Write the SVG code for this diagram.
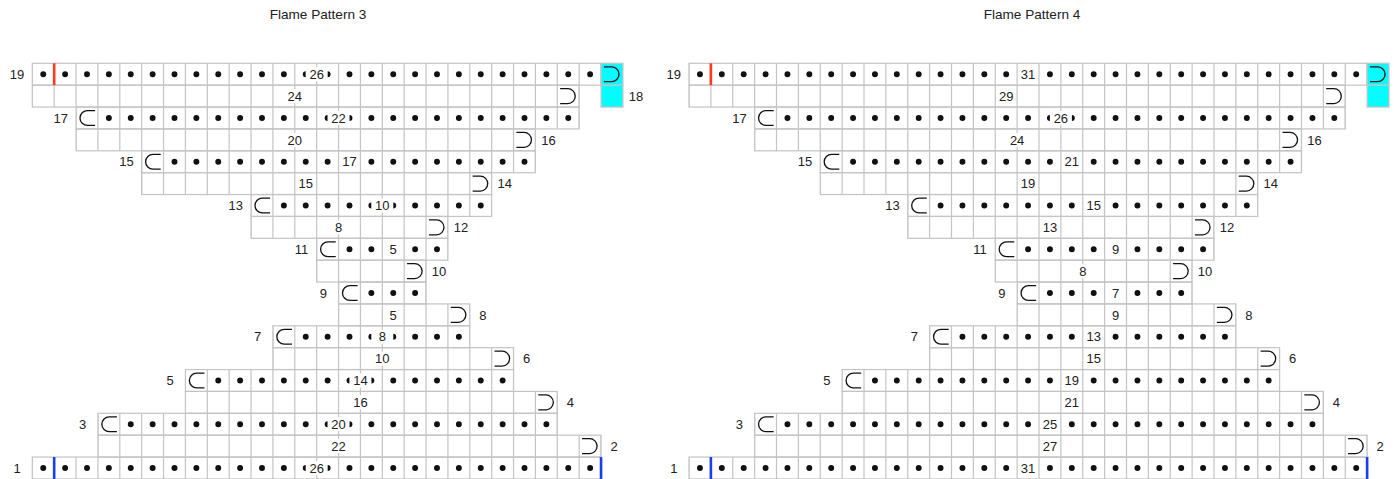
<svg xmlns="http://www.w3.org/2000/svg" xmlns:xlink="http://www.w3.org/1999/xlink" width="1394" height="479" viewBox="0 0 1394 479">
<style>
.c{fill:none;stroke:#c4c4c4;stroke-width:.055}
.v{stroke:#c4c4c4;stroke-width:1;stroke-dasharray:.055 .945;stroke-dashoffset:.0275;fill:none}
.d{stroke:#111;stroke-width:.27;stroke-linecap:round;stroke-dasharray:.001 .999;fill:none}
.k{fill:#00ffff;stroke:#c4c4c4;stroke-width:.055}
.s{fill:none;stroke:#111;stroke-width:.06}
.red{stroke:#ff3a1a;stroke-width:.12}
.blue{stroke:#1a3fe8;stroke-width:.12}
text{font-family:"Liberation Sans",Arial,sans-serif;font-size:13px;fill:#222}
.n{text-anchor:middle}
.t{text-anchor:middle;font-size:13.6px}
.bg{fill:#fff}
</style>
<defs>
<path id="L" class="s" d="M.87 .16H.52A.34 .34 0 0 0 .52 .84H.87"/>
<path id="R" class="s" d="M.13 .16H.48A.34 .34 0 0 1 .48 .84H.13"/>
</defs>
<rect width="1394" height="479" fill="#fff"/>

<g id="flame-pattern-3">
<text class="t" x="318" y="19">Flame Pattern 3</text>
<g id="p3-grid" transform="translate(32.3,63.3) scale(21.875)">
<rect class="c" x="0" y="0" width="26" height="1"/><line class="v" x1="0" y1=".5" x2="26" y2=".5"/>
<rect class="c" x="0" y="1" width="25" height="1"/><line class="v" x1="0" y1="1.5" x2="25" y2="1.5"/>
<rect class="c" x="2" y="2" width="23" height="1"/><line class="v" x1="2" y1="2.5" x2="25" y2="2.5"/>
<rect class="c" x="2" y="3" width="21" height="1"/><line class="v" x1="2" y1="3.5" x2="23" y2="3.5"/>
<rect class="c" x="5" y="4" width="18" height="1"/><line class="v" x1="5" y1="4.5" x2="23" y2="4.5"/>
<rect class="c" x="5" y="5" width="16" height="1"/><line class="v" x1="5" y1="5.5" x2="21" y2="5.5"/>
<rect class="c" x="10" y="6" width="11" height="1"/><line class="v" x1="10" y1="6.5" x2="21" y2="6.5"/>
<rect class="c" x="10" y="7" width="9" height="1"/><line class="v" x1="10" y1="7.5" x2="19" y2="7.5"/>
<rect class="c" x="13" y="8" width="6" height="1"/><line class="v" x1="13" y1="8.5" x2="19" y2="8.5"/>
<rect class="c" x="13" y="9" width="5" height="1"/><line class="v" x1="13" y1="9.5" x2="18" y2="9.5"/>
<rect class="c" x="14" y="10" width="4" height="1"/><line class="v" x1="14" y1="10.5" x2="18" y2="10.5"/>
<rect class="c" x="14" y="11" width="6" height="1"/><line class="v" x1="14" y1="11.5" x2="20" y2="11.5"/>
<rect class="c" x="11" y="12" width="9" height="1"/><line class="v" x1="11" y1="12.5" x2="20" y2="12.5"/>
<rect class="c" x="11" y="13" width="11" height="1"/><line class="v" x1="11" y1="13.5" x2="22" y2="13.5"/>
<rect class="c" x="7" y="14" width="15" height="1"/><line class="v" x1="7" y1="14.5" x2="22" y2="14.5"/>
<rect class="c" x="7" y="15" width="17" height="1"/><line class="v" x1="7" y1="15.5" x2="24" y2="15.5"/>
<rect class="c" x="3" y="16" width="21" height="1"/><line class="v" x1="3" y1="16.5" x2="24" y2="16.5"/>
<rect class="c" x="3" y="17" width="23" height="1"/><line class="v" x1="3" y1="17.5" x2="26" y2="17.5"/>
<rect class="c" x="0" y="18" width="26" height="1"/><line class="v" x1="0" y1="18.5" x2="26" y2="18.5"/>
<rect class="k" x="26" y="0" width="1" height="1"/>
<rect class="k" x="26" y="1" width="1" height="1"/>
<line class="d" x1=".5" y1=".5" x2="25.51" y2=".5"/>
<line class="d" x1="3.5" y1="2.5" x2="24.51" y2="2.5"/>
<line class="d" x1="6.5" y1="4.5" x2="22.51" y2="4.5"/>
<line class="d" x1="11.5" y1="6.5" x2="20.51" y2="6.5"/>
<line class="d" x1="14.5" y1="8.5" x2="18.51" y2="8.5"/>
<line class="d" x1="15.5" y1="10.5" x2="17.51" y2="10.5"/>
<line class="d" x1="12.5" y1="12.5" x2="19.51" y2="12.5"/>
<line class="d" x1="8.5" y1="14.5" x2="21.51" y2="14.5"/>
<line class="d" x1="4.5" y1="16.5" x2="23.51" y2="16.5"/>
<line class="d" x1=".5" y1="18.5" x2="25.51" y2="18.5"/>
<use xlink:href="#R" href="#R" x="26" y="0"/>
<use xlink:href="#R" href="#R" x="24" y="1"/>
<use xlink:href="#L" href="#L" x="2" y="2"/>
<use xlink:href="#R" href="#R" x="22" y="3"/>
<use xlink:href="#L" href="#L" x="5" y="4"/>
<use xlink:href="#R" href="#R" x="20" y="5"/>
<use xlink:href="#L" href="#L" x="10" y="6"/>
<use xlink:href="#R" href="#R" x="18" y="7"/>
<use xlink:href="#L" href="#L" x="13" y="8"/>
<use xlink:href="#R" href="#R" x="17" y="9"/>
<use xlink:href="#L" href="#L" x="14" y="10"/>
<use xlink:href="#R" href="#R" x="19" y="11"/>
<use xlink:href="#L" href="#L" x="11" y="12"/>
<use xlink:href="#R" href="#R" x="21" y="13"/>
<use xlink:href="#L" href="#L" x="7" y="14"/>
<use xlink:href="#R" href="#R" x="23" y="15"/>
<use xlink:href="#L" href="#L" x="3" y="16"/>
<use xlink:href="#R" href="#R" x="25" y="17"/>
<line class="red" x1="1" y1="0" x2="1" y2="1"/>
<line class="blue" x1="1" y1="18" x2="1" y2="19"/>
<line class="blue" x1="26" y1="18" x2="26" y2="19"/>
</g>
<g id="p3-counts">
<rect class="bg" x="305.68" y="67.24" width="22" height="14"/><text class="n" x="316.68" y="78.8">26</text>
<rect class="bg" x="283.8" y="89.11" width="22" height="14"/><text class="n" x="294.8" y="100.7">24</text>
<rect class="bg" x="327.55" y="110.99" width="22" height="14"/><text class="n" x="338.55" y="122.6">22</text>
<rect class="bg" x="283.8" y="132.86" width="22" height="14"/><text class="n" x="294.8" y="144.5">20</text>
<rect class="bg" x="340.99" y="154.74" width="17" height="14"/><text class="n" x="349.49" y="166.3">17</text>
<rect class="bg" x="297.24" y="176.61" width="17" height="14"/><text class="n" x="305.74" y="188.2">15</text>
<rect class="bg" x="371.3" y="198.49" width="22" height="14"/><text class="n" x="382.3" y="210.1">10</text>
<rect class="bg" x="327.55" y="220.36" width="22" height="14"/><text class="n" x="338.55" y="232">8</text>
<rect class="bg" x="384.74" y="242.24" width="17" height="14"/><text class="n" x="393.24" y="253.8">5</text>
<rect class="bg" x="384.74" y="307.86" width="17" height="14"/><text class="n" x="393.24" y="319.5">5</text>
<rect class="bg" x="371.3" y="329.74" width="22" height="14"/><text class="n" x="382.3" y="341.3">8</text>
<rect class="bg" x="371.3" y="351.61" width="22" height="14"/><text class="n" x="382.3" y="363.2">10</text>
<rect class="bg" x="349.43" y="373.49" width="22" height="14"/><text class="n" x="360.43" y="385.1">14</text>
<rect class="bg" x="349.43" y="395.36" width="22" height="14"/><text class="n" x="360.43" y="407">16</text>
<rect class="bg" x="327.55" y="417.24" width="22" height="14"/><text class="n" x="338.55" y="428.8">20</text>
<rect class="bg" x="327.55" y="439.11" width="22" height="14"/><text class="n" x="338.55" y="450.7">22</text>
<rect class="bg" x="305.68" y="460.99" width="22" height="14"/><text class="n" x="316.68" y="472.6">26</text>
</g>
<g id="p3-rownums">
<text class="n" x="17.1" y="78.8">19</text>
<text class="n" x="635.9" y="100.7">18</text>
<text class="n" x="60.85" y="122.6">17</text>
<text class="n" x="548.4" y="144.5">16</text>
<text class="n" x="126.5" y="166.3">15</text>
<text class="n" x="504.7" y="188.2">14</text>
<text class="n" x="235.85" y="210.1">13</text>
<text class="n" x="460.9" y="232">12</text>
<text class="n" x="301.5" y="253.8">11</text>
<text class="n" x="439.05" y="275.7">10</text>
<text class="n" x="323.35" y="297.6">9</text>
<text class="n" x="482.8" y="319.5">8</text>
<text class="n" x="257.7" y="341.3">7</text>
<text class="n" x="526.55" y="363.2">6</text>
<text class="n" x="170.2" y="385.1">5</text>
<text class="n" x="570.3" y="407">4</text>
<text class="n" x="82.7" y="428.8">3</text>
<text class="n" x="614.05" y="450.7">2</text>
<text class="n" x="17.1" y="472.6">1</text>
</g>
</g>

<g id="flame-pattern-4">
<text class="t" x="1032" y="19">Flame Pattern 4</text>
<g id="p4-grid" transform="translate(689,63.3) scale(21.875)">
<rect class="c" x="0" y="0" width="31" height="1"/><line class="v" x1="0" y1=".5" x2="31" y2=".5"/>
<rect class="c" x="0" y="1" width="30" height="1"/><line class="v" x1="0" y1="1.5" x2="30" y2="1.5"/>
<rect class="c" x="3" y="2" width="27" height="1"/><line class="v" x1="3" y1="2.5" x2="30" y2="2.5"/>
<rect class="c" x="3" y="3" width="25" height="1"/><line class="v" x1="3" y1="3.5" x2="28" y2="3.5"/>
<rect class="c" x="6" y="4" width="22" height="1"/><line class="v" x1="6" y1="4.5" x2="28" y2="4.5"/>
<rect class="c" x="6" y="5" width="20" height="1"/><line class="v" x1="6" y1="5.5" x2="26" y2="5.5"/>
<rect class="c" x="10" y="6" width="16" height="1"/><line class="v" x1="10" y1="6.5" x2="26" y2="6.5"/>
<rect class="c" x="10" y="7" width="14" height="1"/><line class="v" x1="10" y1="7.5" x2="24" y2="7.5"/>
<rect class="c" x="14" y="8" width="10" height="1"/><line class="v" x1="14" y1="8.5" x2="24" y2="8.5"/>
<rect class="c" x="14" y="9" width="9" height="1"/><line class="v" x1="14" y1="9.5" x2="23" y2="9.5"/>
<rect class="c" x="15" y="10" width="8" height="1"/><line class="v" x1="15" y1="10.5" x2="23" y2="10.5"/>
<rect class="c" x="15" y="11" width="10" height="1"/><line class="v" x1="15" y1="11.5" x2="25" y2="11.5"/>
<rect class="c" x="11" y="12" width="14" height="1"/><line class="v" x1="11" y1="12.5" x2="25" y2="12.5"/>
<rect class="c" x="11" y="13" width="16" height="1"/><line class="v" x1="11" y1="13.5" x2="27" y2="13.5"/>
<rect class="c" x="7" y="14" width="20" height="1"/><line class="v" x1="7" y1="14.5" x2="27" y2="14.5"/>
<rect class="c" x="7" y="15" width="22" height="1"/><line class="v" x1="7" y1="15.5" x2="29" y2="15.5"/>
<rect class="c" x="3" y="16" width="26" height="1"/><line class="v" x1="3" y1="16.5" x2="29" y2="16.5"/>
<rect class="c" x="3" y="17" width="28" height="1"/><line class="v" x1="3" y1="17.5" x2="31" y2="17.5"/>
<rect class="c" x="0" y="18" width="31" height="1"/><line class="v" x1="0" y1="18.5" x2="31" y2="18.5"/>
<rect class="k" x="31" y="0" width="1" height="1"/>
<rect class="k" x="31" y="1" width="1" height="1"/>
<line class="d" x1=".5" y1=".5" x2="30.51" y2=".5"/>
<line class="d" x1="4.5" y1="2.5" x2="29.51" y2="2.5"/>
<line class="d" x1="7.5" y1="4.5" x2="27.51" y2="4.5"/>
<line class="d" x1="11.5" y1="6.5" x2="25.51" y2="6.5"/>
<line class="d" x1="15.5" y1="8.5" x2="23.51" y2="8.5"/>
<line class="d" x1="16.5" y1="10.5" x2="22.51" y2="10.5"/>
<line class="d" x1="12.5" y1="12.5" x2="24.51" y2="12.5"/>
<line class="d" x1="8.5" y1="14.5" x2="26.51" y2="14.5"/>
<line class="d" x1="4.5" y1="16.5" x2="28.51" y2="16.5"/>
<line class="d" x1=".5" y1="18.5" x2="30.51" y2="18.5"/>
<use xlink:href="#R" href="#R" x="31" y="0"/>
<use xlink:href="#R" href="#R" x="29" y="1"/>
<use xlink:href="#L" href="#L" x="3" y="2"/>
<use xlink:href="#R" href="#R" x="27" y="3"/>
<use xlink:href="#L" href="#L" x="6" y="4"/>
<use xlink:href="#R" href="#R" x="25" y="5"/>
<use xlink:href="#L" href="#L" x="10" y="6"/>
<use xlink:href="#R" href="#R" x="23" y="7"/>
<use xlink:href="#L" href="#L" x="14" y="8"/>
<use xlink:href="#R" href="#R" x="22" y="9"/>
<use xlink:href="#L" href="#L" x="15" y="10"/>
<use xlink:href="#R" href="#R" x="24" y="11"/>
<use xlink:href="#L" href="#L" x="11" y="12"/>
<use xlink:href="#R" href="#R" x="26" y="13"/>
<use xlink:href="#L" href="#L" x="7" y="14"/>
<use xlink:href="#R" href="#R" x="28" y="15"/>
<use xlink:href="#L" href="#L" x="3" y="16"/>
<use xlink:href="#R" href="#R" x="30" y="17"/>
<line class="red" x1="1" y1="0" x2="1" y2="1"/>
<line class="blue" x1="1" y1="18" x2="1" y2="19"/>
<line class="blue" x1="31" y1="18" x2="31" y2="19"/>
</g>
<g id="p4-counts">
<rect class="bg" x="1019.56" y="67.24" width="17" height="14"/><text class="n" x="1028.06" y="78.8">31</text>
<rect class="bg" x="997.69" y="89.11" width="17" height="14"/><text class="n" x="1006.19" y="100.7">29</text>
<rect class="bg" x="1049.88" y="110.99" width="22" height="14"/><text class="n" x="1060.88" y="122.6">26</text>
<rect class="bg" x="1006.13" y="132.86" width="22" height="14"/><text class="n" x="1017.13" y="144.5">24</text>
<rect class="bg" x="1063.31" y="154.74" width="17" height="14"/><text class="n" x="1071.81" y="166.3">21</text>
<rect class="bg" x="1019.56" y="176.61" width="17" height="14"/><text class="n" x="1028.06" y="188.2">19</text>
<rect class="bg" x="1085.19" y="198.49" width="17" height="14"/><text class="n" x="1093.69" y="210.1">15</text>
<rect class="bg" x="1041.44" y="220.36" width="17" height="14"/><text class="n" x="1049.94" y="232">13</text>
<rect class="bg" x="1107.06" y="242.24" width="17" height="14"/><text class="n" x="1115.56" y="253.8">9</text>
<rect class="bg" x="1071.75" y="264.11" width="22" height="14"/><text class="n" x="1082.75" y="275.7">8</text>
<rect class="bg" x="1107.06" y="285.99" width="17" height="14"/><text class="n" x="1115.56" y="297.6">7</text>
<rect class="bg" x="1107.06" y="307.86" width="17" height="14"/><text class="n" x="1115.56" y="319.5">9</text>
<rect class="bg" x="1085.19" y="329.74" width="17" height="14"/><text class="n" x="1093.69" y="341.3">13</text>
<rect class="bg" x="1085.19" y="351.61" width="17" height="14"/><text class="n" x="1093.69" y="363.2">15</text>
<rect class="bg" x="1063.31" y="373.49" width="17" height="14"/><text class="n" x="1071.81" y="385.1">19</text>
<rect class="bg" x="1063.31" y="395.36" width="17" height="14"/><text class="n" x="1071.81" y="407">21</text>
<rect class="bg" x="1041.44" y="417.24" width="17" height="14"/><text class="n" x="1049.94" y="428.8">25</text>
<rect class="bg" x="1041.44" y="439.11" width="17" height="14"/><text class="n" x="1049.94" y="450.7">27</text>
<rect class="bg" x="1019.56" y="460.99" width="17" height="14"/><text class="n" x="1028.06" y="472.6">31</text>
</g>
<g id="p4-rownums">
<text class="n" x="673.8" y="78.8">19</text>
<text class="n" x="739.4" y="122.6">17</text>
<text class="n" x="1314.5" y="144.5">16</text>
<text class="n" x="805.05" y="166.3">15</text>
<text class="n" x="1270.75" y="188.2">14</text>
<text class="n" x="892.55" y="210.1">13</text>
<text class="n" x="1227" y="232">12</text>
<text class="n" x="980.05" y="253.8">11</text>
<text class="n" x="1205.1" y="275.7">10</text>
<text class="n" x="1001.9" y="297.6">9</text>
<text class="n" x="1248.9" y="319.5">8</text>
<text class="n" x="914.4" y="341.3">7</text>
<text class="n" x="1292.6" y="363.2">6</text>
<text class="n" x="826.9" y="385.1">5</text>
<text class="n" x="1336.4" y="407">4</text>
<text class="n" x="739.4" y="428.8">3</text>
<text class="n" x="1380.1" y="450.7">2</text>
<text class="n" x="673.8" y="472.6">1</text>
</g>
</g>
</svg>
